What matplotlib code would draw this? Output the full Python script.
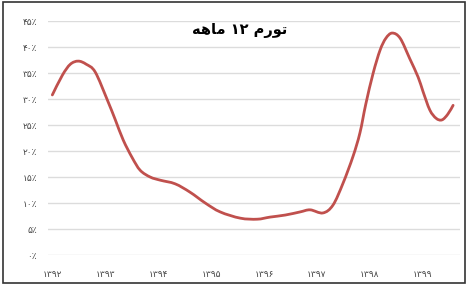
import matplotlib
matplotlib.use("Agg")
import matplotlib.pyplot as plt
from matplotlib.patches import Rectangle, PathPatch
from matplotlib.path import Path

# Data
years = [1392.00, 1392.19, 1392.34, 1392.49, 1392.64, 1392.81, 1393.04, 1393.19, 1393.34,
         1393.51, 1393.66, 1393.85, 1394.04, 1394.32, 1394.60, 1394.89, 1395.17, 1395.55,
         1395.87, 1396.11, 1396.40, 1396.68, 1396.87, 1397.11, 1397.30, 1397.49, 1397.68,
         1397.81, 1397.92, 1398.06, 1398.19, 1398.30, 1398.42, 1398.57, 1398.75, 1398.91,
         1399.00, 1399.13, 1399.25, 1399.36, 1399.47, 1399.57]
inflation = [30.8, 34.6, 36.7, 37.3, 36.7, 35.2, 29.8, 26.0, 22.1,
             18.7, 16.3, 15.0, 14.4, 13.7, 12.1, 10.0, 8.3, 7.1,
             6.9, 7.3, 7.7, 8.3, 8.7, 8.1, 9.6, 13.8, 19.0,
             23.5, 29.0, 35.0, 39.4, 41.7, 42.7, 41.7, 37.8, 34.2,
             31.5, 27.9, 26.3, 26.0, 27.1, 28.8]
x_ticks = [1392, 1393, 1394, 1395, 1396, 1397, 1398, 1399]
x_labels = ["۱۳۹۲", "۱۳۹۳", "۱۳۹۴", "۱۳۹۵", "۱۳۹۶", "۱۳۹۷", "۱۳۹۸", "۱۳۹۹"]
y_ticks = [0, 5, 10, 15, 20, 25, 30, 35, 40, 45]
y_labels = ["۰٪", "۵٪", "۱۰٪", "۱۵٪", "۲۰٪", "۲۵٪", "۳۰٪", "۳۵٪", "۴۰٪", "۴۵٪"]
# "تورم ۱۲ ماهه" pre-shaped (presentation forms, visual order)
title = "\uFEEA\uFEEB\uFE8E\uFEE3 ۱۲ \uFEE1\uFEAD\uFEEE\uFE97"

plt.rcParams['font.family'] = ['DejaVu Sans']

fig = plt.figure(figsize=(4.67, 2.85), dpi=100)
fig.patch.set_facecolor('white')
fig.patches.append(Rectangle((0.006, 0.007), 0.99, 0.985, transform=fig.transFigure,
                             fill=False, edgecolor='#333333', linewidth=1.2))

ax = fig.add_axes([0.103, 0.105, 0.882, 0.821])

# smooth line through the data points (Catmull-Rom as cubic Bezier segments)
n = len(years)
verts = [(years[0], inflation[0])]
codes = [Path.MOVETO]
for i in range(n - 1):
    p0 = (years[max(i - 1, 0)], inflation[max(i - 1, 0)])
    p1 = (years[i], inflation[i])
    p2 = (years[i + 1], inflation[i + 1])
    p3 = (years[min(i + 2, n - 1)], inflation[min(i + 2, n - 1)])
    c1 = (p1[0] + (p2[0] - p0[0]) / 6, p1[1] + (p2[1] - p0[1]) / 6)
    c2 = (p2[0] - (p3[0] - p1[0]) / 6, p2[1] - (p3[1] - p1[1]) / 6)
    verts += [c1, c2, p2]
    codes += [Path.CURVE4] * 3
ax.add_patch(PathPatch(Path(verts, codes), facecolor='none', edgecolor='#c0504d',
                       linewidth=2.0, capstyle='round', joinstyle='round'))

ax.set_xlim(1391.92, 1399.70)
ax.set_ylim(0, 45)
ax.set_yticks(y_ticks)
ax.set_yticklabels(y_labels)
ax.set_xticks(x_ticks)
ax.set_xticklabels(x_labels)
ax.grid(axis='y', color='#dcdcdc', linewidth=1.0)
ax.set_axisbelow(True)
for s in ax.spines.values():
    s.set_visible(False)
ax.tick_params(axis='both', length=0, labelsize=6.5, colors='#444444')
ax.tick_params(axis='x', pad=11)
ax.tick_params(axis='y', pad=8)

fig.text(0.514, 0.893, title, ha='center', va='center', fontsize=10.5,
         fontweight='bold', color='black')

fig.savefig("out.png", dpi=100)
